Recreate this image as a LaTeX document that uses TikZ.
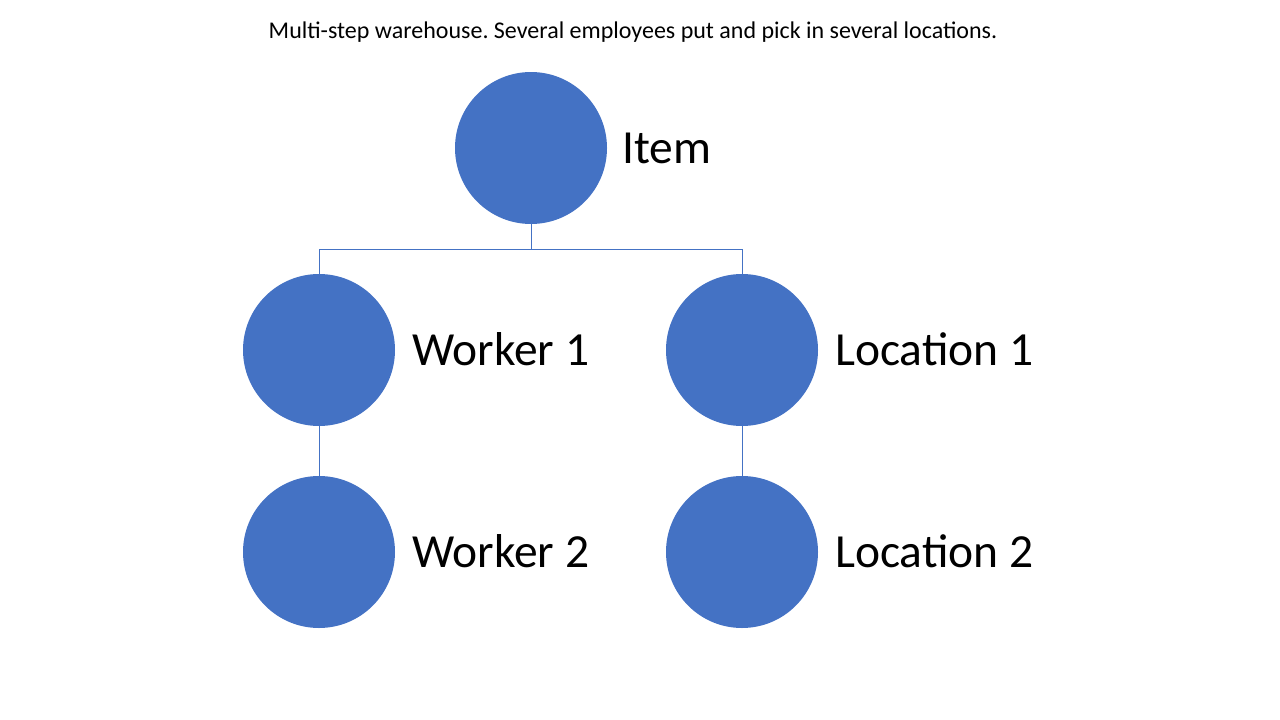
\documentclass[tikz,border=0pt]{standalone}
\usepackage{fontspec}
\setmainfont{Carlito}
\frenchspacing
\definecolor{cblue}{RGB}{68,114,196}
\begin{document}
\begin{tikzpicture}[x=1pt,y=-1pt,
  circ/.style={circle,fill=cblue,draw=none,minimum size=152pt,inner sep=0pt},
  lbl/.style={anchor=base west,inner sep=0pt,font=\fontsize{47.5}{56}\selectfont},
  conn/.style={draw=cblue,line width=1pt}]
\useasboundingbox (0,0) rectangle (1280,720);
\node[anchor=base,inner sep=0pt,font=\fontsize{24}{28}\selectfont] (title) at (633,38) {Multi-step warehouse. Several employees put and pick in several locations.};
\node[circ] (item) at (531,148) {};
\node[circ] (w1) at (319,350) {};
\node[circ] (l1) at (742,350) {};
\node[circ] (w2) at (319,552) {};
\node[circ] (l2) at (742,552) {};
\node[lbl] (titem) at (622,163) {Item};
\node[lbl] (tw1) at (412,365) {Worker 1};
\node[lbl] (tl1) at (835,365) {Location 1};
\node[lbl] (tw2) at (412,567) {Worker 2};
\node[lbl] (tl2) at (835,567) {Location 2};
\coordinate (bus) at (531,249);
\draw[conn] (item.south) -- (bus) -| (w1.north);
\draw[conn] (bus) -| (l1.north);
\draw[conn] (w1.south) -- (w2.north);
\draw[conn] (l1.south) -- (l2.north);
\end{tikzpicture}
\end{document}
